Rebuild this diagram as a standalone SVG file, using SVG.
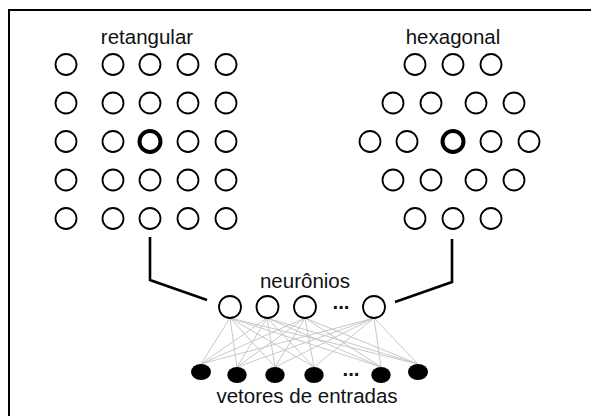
<svg xmlns="http://www.w3.org/2000/svg" width="591" height="416" viewBox="0 0 591 416">
<style>
.n{fill:#fff;stroke:#000;stroke-width:1.8}
.b{fill:#fff;stroke:#000;stroke-width:4}
.in{fill:#000}
.t{font-family:"Liberation Sans",Arial,sans-serif;font-size:20.5px;fill:#111;text-anchor:middle}
.d{font-weight:bold}
.c{fill:none;stroke:#000;stroke-width:2.6}
.w{stroke:#c8c8c8;stroke-width:1;fill:none}
</style>
<rect x="0" y="0" width="591" height="416" fill="#fff"/>
<rect x="9" y="10" width="600" height="420" fill="none" stroke="#000" stroke-width="2"/>
<g id="connectors">
<polyline class="c" points="150,237 150,280 207,300"/>
<polyline class="c" points="452,239 452,282 395,302"/>
<g class="w">
<path d="M230,318L201,364M230,318L237,367M230,318L275,367M230,318L314,367M230,318L381,367M230,318L418,364"/>
<path d="M267,318L201,364M267,318L237,367M267,318L275,367M267,318L314,367M267,318L381,367M267,318L418,364"/>
<path d="M305,318L201,364M305,318L237,367M305,318L275,367M305,318L314,367M305,318L381,367M305,318L418,364"/>
<path d="M374,318L201,364M374,318L237,367M374,318L275,367M374,318L314,367M374,318L381,367M374,318L418,364"/>
</g>
</g>
<g id="retangular">
<text class="t" x="147" y="44">retangular</text>
<circle class="n" cx="66" cy="64.5" r="10.5"/><circle class="n" cx="113" cy="64.5" r="10.5"/><circle class="n" cx="150" cy="64.5" r="10.5"/><circle class="n" cx="188" cy="64.5" r="10.5"/><circle class="n" cx="226" cy="64.5" r="10.5"/>
<circle class="n" cx="66" cy="103" r="10.5"/><circle class="n" cx="113" cy="103" r="10.5"/><circle class="n" cx="150" cy="103" r="10.5"/><circle class="n" cx="188" cy="103" r="10.5"/><circle class="n" cx="226" cy="103" r="10.5"/>
<circle class="n" cx="66" cy="141.5" r="10.5"/><circle class="n" cx="113" cy="141.5" r="10.5"/><circle class="b" cx="150" cy="141.5" r="10.5"/><circle class="n" cx="188" cy="141.5" r="10.5"/><circle class="n" cx="226" cy="141.5" r="10.5"/>
<circle class="n" cx="66" cy="180" r="10.5"/><circle class="n" cx="113" cy="180" r="10.5"/><circle class="n" cx="150" cy="180" r="10.5"/><circle class="n" cx="188" cy="180" r="10.5"/><circle class="n" cx="226" cy="180" r="10.5"/>
<circle class="n" cx="66" cy="218.5" r="10.5" stroke-width="2.2"/><circle class="n" cx="113" cy="218.5" r="10.5"/><circle class="n" cx="150" cy="218.5" r="10.5"/><circle class="n" cx="188" cy="218.5" r="10.5"/><circle class="n" cx="226" cy="218.5" r="10.5"/>
</g>
<g id="hexagonal">
<text class="t" x="453" y="44">hexagonal</text>
<circle class="n" cx="415" cy="64.5" r="10.5"/><circle class="n" cx="453" cy="64.5" r="10.5"/><circle class="n" cx="491" cy="64.5" r="10.5"/>
<circle class="n" cx="393" cy="103" r="10.5"/><circle class="n" cx="431" cy="103" r="10.5"/><circle class="n" cx="476" cy="103" r="10.5"/><circle class="n" cx="514" cy="103" r="10.5"/>
<circle class="n" cx="370" cy="141.5" r="10.5"/><circle class="n" cx="407" cy="141.5" r="10.5"/><circle class="b" cx="453" cy="141.5" r="10.5"/><circle class="n" cx="491" cy="141.5" r="10.5"/><circle class="n" cx="529" cy="141.5" r="10.5"/>
<circle class="n" cx="393" cy="180" r="10.5"/><circle class="n" cx="431" cy="180" r="10.5"/><circle class="n" cx="476" cy="180" r="10.5"/><circle class="n" cx="514" cy="180" r="10.5"/>
<circle class="n" cx="415" cy="218.5" r="10.5"/><circle class="n" cx="453" cy="218.5" r="10.5"/><circle class="n" cx="491" cy="218.5" r="10.5"/>
</g>
<g id="neuronios">
<text class="t" x="305" y="288">neurônios</text>
<circle class="n" cx="230" cy="307" r="11"/><circle class="n" cx="267.5" cy="307" r="11"/><circle class="n" cx="305" cy="307" r="11"/><circle class="n" cx="374" cy="307" r="11"/>
<text class="t d" x="341" y="309">...</text>
</g>
<g id="entradas">
<ellipse class="in" cx="201" cy="372" rx="10" ry="8"/><ellipse class="in" cx="237" cy="375" rx="9.7" ry="8"/><ellipse class="in" cx="275" cy="375" rx="9.7" ry="8"/><ellipse class="in" cx="314" cy="375" rx="9.7" ry="8"/><ellipse class="in" cx="381" cy="375" rx="9.7" ry="8"/><ellipse class="in" cx="418" cy="372" rx="10" ry="8"/>
<text class="t d" x="351" y="376">...</text>
<text class="t" x="307" y="403">vetores de entradas</text>
</g>
</svg>
